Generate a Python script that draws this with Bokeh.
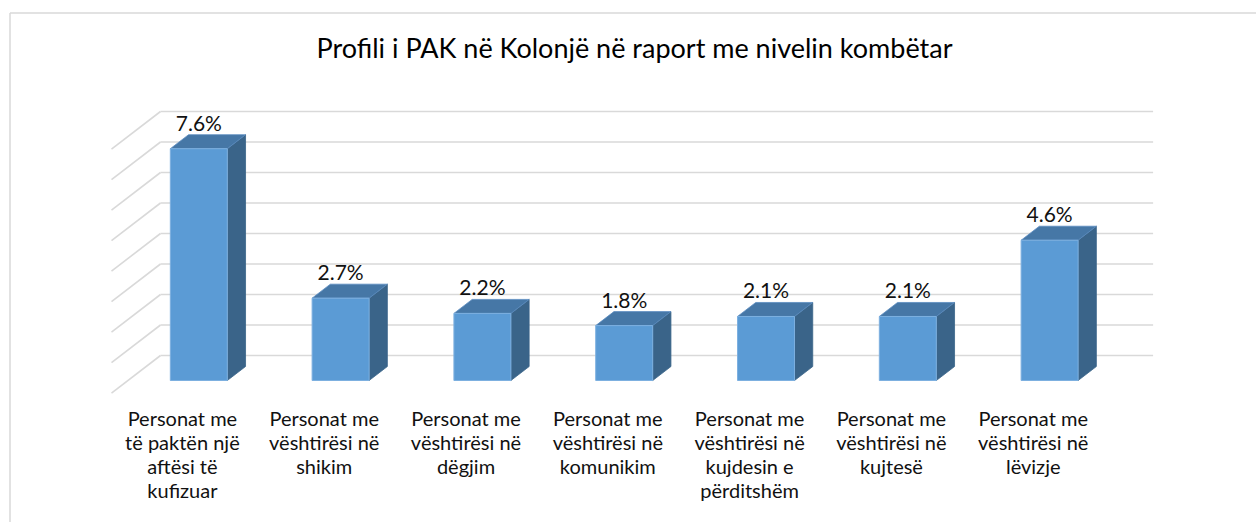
from bokeh.plotting import figure
from bokeh.models import Range1d
from bokeh.core.properties import value
from bokeh.embed import file_html
from bokeh.resources import INLINE

# ---------------- data ----------------
title_text = "Profili i PAK në Kolonjë në raport me nivelin kombëtar"
categories = [
    "Personat me\ntë paktën një\naftësi të\nkufizuar",
    "Personat me\nvështirësi në\nshikim",
    "Personat me\nvështirësi në\ndëgjim",
    "Personat me\nvështirësi në\nkomunikim",
    "Personat me\nvështirësi në\nkujdesin e\npërditshëm",
    "Personat me\nvështirësi në\nkujtesë",
    "Personat me\nvështirësi në\nlëvizje",
]
values = [7.6, 2.7, 2.2, 1.8, 2.1, 2.1, 4.6]
value_labels = ["7.6%", "2.7%", "2.2%", "1.8%", "2.1%", "2.1%", "4.6%"]
grid_levels = [0, 1, 2, 3, 4, 5, 6, 7, 8]

# ---------------- layout constants ----------------
W, H = 1256, 522
PX_X = 141.8          # pixels per category slot
PX_Y = 30.5           # pixels per 1 %
OX, OY = 160.0, 355.0 # page position of back-wall origin
PAGE = 0.0
BASE_FIX = 0.43       # em shift of rendered baseline

DXF = -49.0 / PX_X    # full-depth shift (x, data units)
DYF = -37.6 / PX_Y    # full-depth shift (y, data units)
D_BACK, D_FRONT = 0.293, 0.665
HW = 0.201

FONT = "Lato"
FRONT_C = "#5B9BD5"
SIDE_C = "#3A6489"
TOP_C = "#4677A6"
GRID_C = "#D9D9D9"
TITLE_PX, VAL_PX, CAT_PX = 27, 21, 20

def px_x(px):
    return (px - OX) / PX_X

def px_y(py):
    return (OY - py) / PX_Y

def proj(x, v, d):
    return x + d * DXF, v + d * DYF

p = figure(width=W, height=H, output_backend="svg", toolbar_location=None,
           x_range=Range1d(px_x(PAGE), px_x(PAGE + W)),
           y_range=Range1d(px_y(PAGE + H), px_y(PAGE)),
           min_border=0, outline_line_color=None)
p.axis.visible = False
p.grid.visible = False
p.background_fill_color = "white"
p.border_fill_color = "white"

# chart frame (top and left edges)
fx, fy = px_x(9.5), px_y(12.5)
p.multi_line(xs=[[fx, px_x(PAGE + W + 5)], [fx, fx]],
             ys=[[fy, fy], [fy, px_y(PAGE + H + 5)]],
             line_color=GRID_C, line_width=1.5)

# gridlines: back wall + left wall
n = len(categories)
gx, gy = [], []
for g in grid_levels:
    gx.append([0, n]); gy.append([g, g])
    x0, y0 = proj(0, g, 0.0)
    x1, y1 = proj(0, g, 1.0)
    gx.append([x1, x0]); gy.append([y1, y0])
p.multi_line(xs=gx, ys=gy, line_color=GRID_C, line_width=1.6)

# bars
fxs, fys, sxs, sys_, txs, tys = [], [], [], [], [], []
for i, v in enumerate(values):
    c = i + 0.5
    l, r = c - HW, c + HW
    pts = [proj(l, 0, D_FRONT), proj(r, 0, D_FRONT), proj(r, v, D_FRONT), proj(l, v, D_FRONT)]
    fxs.append([q[0] for q in pts]); fys.append([q[1] for q in pts])
    pts = [proj(r, 0, D_FRONT), proj(r, v, D_FRONT), proj(r, v, D_BACK), proj(r, 0, D_BACK)]
    sxs.append([q[0] for q in pts]); sys_.append([q[1] for q in pts])
    pts = [proj(l, v, D_FRONT), proj(r, v, D_FRONT), proj(r, v, D_BACK), proj(l, v, D_BACK)]
    txs.append([q[0] for q in pts]); tys.append([q[1] for q in pts])

p.patches(xs=sxs, ys=sys_, fill_color=SIDE_C, line_color=SIDE_C, line_width=0.8)
p.patches(xs=txs, ys=tys, fill_color=TOP_C, line_color="#5A8CC0", line_width=0.8)
p.patches(xs=fxs, ys=fys, fill_color=FRONT_C, line_color="#7DB0E0", line_width=1)

# value labels
lx = [i + 0.5 + D_FRONT * DXF for i in range(n)]
ly = [v + D_BACK * DYF + (3.5 + BASE_FIX * VAL_PX) / PX_Y for v in values]
p.text(x=lx, y=ly, text=value_labels, text_align="center", text_baseline="alphabetic",
       text_font=value(FONT), text_font_size=f"{VAL_PX}px", text_color="#111111")

# category labels
cx, cy, ct = [], [], []
for i, cat in enumerate(categories):
    for k, line in enumerate(cat.split("\n")):
        cx.append(i + 0.5 + DXF)
        cy.append(DYF - (33 + 24 * k - BASE_FIX * CAT_PX) / PX_Y)
        ct.append(line)
p.text(x=cx, y=cy, text=ct, text_align="center", text_baseline="alphabetic",
       text_font=value(FONT), text_font_size=f"{CAT_PX}px", text_color="#111111")

# title
p.text(x=[px_x(634)], y=[px_y(58.3 - BASE_FIX * TITLE_PX)], text=[title_text],
       text_align="center", text_baseline="alphabetic", text_font=value(FONT),
       text_font_size=f"{TITLE_PX}px", text_color="#000000")

open("out.html", "w").write(file_html(p, INLINE))
